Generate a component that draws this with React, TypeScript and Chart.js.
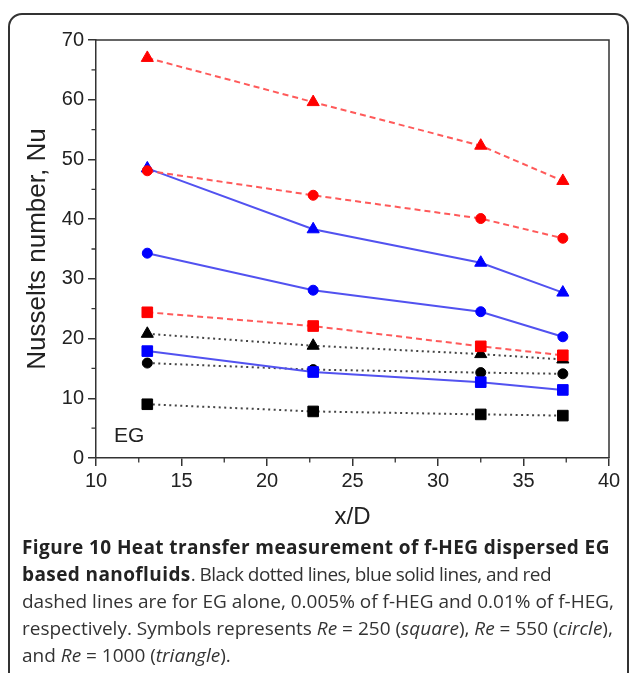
import React, { useEffect, useRef } from "react";
import { Chart, registerables } from "chart.js";

Chart.register(...registerables);

// x/D positions
const xPositions = [13, 22.7, 32.5, 37.3];

// EG alone (black dotted)
const egSquare = [9.0, 7.8, 7.3, 7.1];
const egCircle = [15.9, 14.8, 14.3, 14.1];
const egTriangle = [20.8, 18.8, 17.4, 16.5];

// 0.005% f-HEG (blue solid)
const blueSquare = [17.9, 14.4, 12.7, 11.4];
const blueCircle = [34.3, 28.1, 24.5, 20.3];
const blueTriangle = [48.5, 38.3, 32.7, 27.7];

// 0.01% f-HEG (red dashed)
const redSquare = [24.4, 22.1, 18.7, 17.2];
const redCircle = [48.1, 44.0, 40.1, 36.8];
const redTriangle = [67.0, 59.6, 52.3, 46.4];

const xTicks = [10, 15, 20, 25, 30, 35, 40];
const yTicks = [0, 10, 20, 30, 40, 50, 60, 70];
const xMinor = [12.5, 17.5, 22.5, 27.5, 32.5, 37.5];
const yMinor = [5, 15, 25, 35, 45, 55, 65];

const AXIS_FONT = "'Liberation Sans', Arial, sans-serif";

function pts(vals: number[]) {
  return vals.map((v, i) => ({ x: xPositions[i], y: v }));
}

function makeSet(
  vals: number[],
  shape: string,
  lineColor: string,
  markColor: string,
  dash: number[]
) {
  const radius = shape === "rect" ? 7.5 : shape === "triangle" ? 7 : 5;
  return {
    data: pts(vals),
    borderColor: lineColor,
    borderWidth: 2,
    borderDash: dash,
    pointStyle: shape,
    pointRadius: radius,
    pointBackgroundColor: markColor,
    pointBorderColor: markColor,
    pointBorderWidth: 1,
    fill: false,
    tension: 0,
  };
}

const framePlugin = {
  id: "framePlugin",
  afterDraw(chart: any) {
    const { ctx, chartArea, scales } = chart;
    const { left, right, top, bottom } = chartArea;
    ctx.save();
    ctx.strokeStyle = "#333";
    ctx.lineWidth = 1.5;
    ctx.beginPath();
    ctx.moveTo(left, top);
    ctx.lineTo(right, top);
    ctx.lineTo(right, bottom);
    ctx.stroke();
    ctx.lineWidth = 1.3;
    ctx.beginPath();
    xMinor.forEach((v) => {
      const px = scales.x.getPixelForValue(v);
      ctx.moveTo(px, bottom);
      ctx.lineTo(px, bottom + 4.5);
    });
    yMinor.forEach((v) => {
      const py = scales.y.getPixelForValue(v);
      ctx.moveTo(left, py);
      ctx.lineTo(left - 4.5, py);
    });
    ctx.stroke();
    ctx.fillStyle = "#222";
    ctx.font = `21px ${AXIS_FONT}`;
    ctx.textBaseline = "alphabetic";
    ctx.textAlign = "left";
    ctx.fillText("EG", left + 18, bottom - 16);
    ctx.restore();
  },
};

function NuChart() {
  const ref = useRef<HTMLCanvasElement | null>(null);
  useEffect(() => {
    if (!ref.current) return;
    const red = "#ff5a5a";
    const redMark = "#ff0000";
    const blue = "#5252f0";
    const blueMark = "#0000ff";
    const black = "#444";
    const blackMark = "#000";
    const chart = new Chart(ref.current, {
      type: "line",
      data: {
        datasets: [
          makeSet(redTriangle, "triangle", red, redMark, [6, 4]),
          makeSet(redCircle, "circle", red, redMark, [6, 4]),
          makeSet(redSquare, "rect", red, redMark, [6, 4]),
          makeSet(blueTriangle, "triangle", blue, blueMark, []),
          makeSet(blueCircle, "circle", blue, blueMark, []),
          makeSet(blueSquare, "rect", blue, blueMark, []),
          makeSet(egTriangle, "triangle", black, blackMark, [2, 3.5]),
          makeSet(egCircle, "circle", black, blackMark, [2, 3.5]),
          makeSet(egSquare, "rect", black, blackMark, [2, 3.5]),
        ] as any,
      },
      options: {
        animation: false,
        responsive: false,
        devicePixelRatio: 1,
        layout: { padding: { left: 0, top: 40, right: 20, bottom: 0 } },
        plugins: {
          legend: { display: false },
          tooltip: { enabled: false },
        },
        scales: {
          x: {
            type: "linear",
            min: 10,
            max: 40,
            afterFit: (s: any) => {
              s.height = 82;
            },
            afterBuildTicks: (s: any) => {
              s.ticks = xTicks.map((v) => ({ value: v }));
            },
            ticks: {
              color: "#222",
              font: { family: AXIS_FONT, size: 20 },
              padding: 3,
              maxRotation: 0,
              autoSkip: false,
            },
            grid: {
              drawOnChartArea: false,
              drawTicks: true,
              tickLength: 8,
              color: "#333",
              lineWidth: 1.5,
            },
            border: { display: true, color: "#333", width: 1.5 },
            title: {
              display: true,
              text: "x/D",
              color: "#222",
              font: { family: AXIS_FONT, size: 24 },
              padding: { top: 0, bottom: 8 },
            },
          },
          y: {
            type: "linear",
            min: 0,
            max: 70,
            afterFit: (s: any) => {
              s.width = 96;
            },
            afterBuildTicks: (s: any) => {
              s.ticks = yTicks.map((v) => ({ value: v }));
            },
            ticks: {
              color: "#222",
              font: { family: AXIS_FONT, size: 20 },
              padding: 4,
              autoSkip: false,
            },
            grid: {
              drawOnChartArea: false,
              drawTicks: true,
              tickLength: 8,
              color: "#333",
              lineWidth: 1.5,
            },
            border: { display: true, color: "#333", width: 1.5 },
            title: {
              display: true,
              text: "Nusselts number, Nu",
              color: "#222",
              font: { family: AXIS_FONT, size: 26 },
              padding: { top: 22, bottom: 0 },
            },
          },
        },
      } as any,
      plugins: [framePlugin],
    });
    return () => chart.destroy();
  }, []);
  return (
    <canvas
      ref={ref}
      width={629}
      height={540}
      style={{ position: "fixed", left: 0, top: 0, width: 629, height: 540 }}
    />
  );
}

export default function App() {
  const cap: React.CSSProperties = {
    position: "fixed",
    left: 22,
    top: 534,
    fontFamily: "'Open Sans', 'Noto Sans', sans-serif",
    fontSize: 19,
    lineHeight: "27px",
    color: "#333",
    whiteSpace: "nowrap",
  };
  const bold: React.CSSProperties = { color: "#222", letterSpacing: "0.4px" };
  return (
    <div>
      <div
        style={{
          position: "fixed",
          left: 8,
          top: 13,
          width: 621,
          height: 720,
          border: "2px solid #333",
          borderRadius: 14,
          boxSizing: "border-box",
          background: "#fff",
        }}
      />
      <NuChart />
      <div style={cap}>
        <div>
          <b style={bold}>
            Figure 10 Heat transfer measurement of f-HEG dispersed EG
          </b>
        </div>
        <div>
          <b style={bold}>based nanofluids</b>
          <span style={{ letterSpacing: "-0.55px" }}>
            . Black dotted lines, blue solid lines, and red
          </span>
        </div>
        <div>
          dashed lines are for EG alone, 0.005% of f-HEG and 0.01% of f-HEG,
        </div>
        <div>
          respectively. Symbols represents <i>Re</i> = 250 (<i>square</i>),{" "}
          <i>Re</i> = 550 (<i>circle</i>),
        </div>
        <div>
          and <i>Re</i> = 1000 (<i>triangle</i>).
        </div>
      </div>
    </div>
  );
}
